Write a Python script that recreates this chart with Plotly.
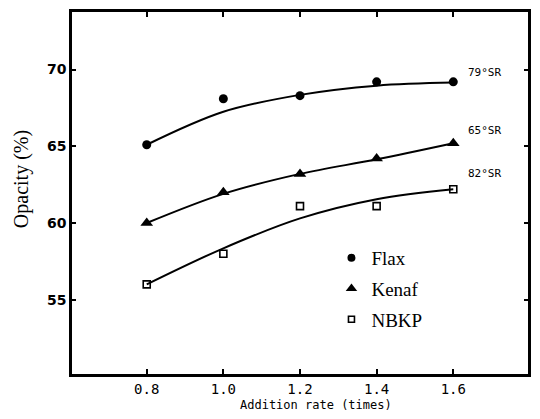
import plotly.graph_objects as go

# ---- data ----
addition_rate = [0.8, 1.0, 1.2, 1.4, 1.6]
flax = [65.1, 68.1, 68.3, 69.2, 69.2]
kenaf = [60.0, 62.0, 63.2, 64.2, 65.2]
nbkp = [56.0, 58.0, 61.1, 61.1, 62.2]

# smooth fitted curves as drawn in the reference
flax_curve = [65.1, 67.25, 68.35, 68.95, 69.15]
kenaf_curve = [60.0, 61.9, 63.2, 64.15, 65.2]
nbkp_curve = [56.0, 58.35, 60.3, 61.55, 62.2]

series_names = ["Flax", "Kenaf", "NBKP"]
curve_labels = ["79°SR", "65°SR", "82°SR"]
label_y = [69.8, 66.05, 63.2]

x_ticks = [0.8, 1.0, 1.2, 1.4, 1.6]
x_ticklabels = ["0.8", "1.0", "1.2", "1.4", "1.6"]
y_ticks = [55, 60, 65, 70]

markers = [
    dict(symbol="circle", size=9, color="black"),
    dict(symbol="triangle-up", size=11, color="black"),
    dict(symbol="square-open", size=7, color="black", line=dict(width=1.6, color="black")),
]

fig = go.Figure()
for vals, curve, mk in zip([flax, kenaf, nbkp], [flax_curve, kenaf_curve, nbkp_curve], markers):
    fig.add_trace(go.Scatter(x=addition_rate, y=curve, mode="lines",
                             line=dict(color="black", width=2, shape="spline", smoothing=1.0),
                             showlegend=False, hoverinfo="skip"))
    fig.add_trace(go.Scatter(x=addition_rate, y=vals, mode="markers", marker=mk,
                             showlegend=False))

for name, mk in zip(series_names, markers):
    mk2 = dict(mk)
    mk2["size"] = mk["size"] - 1
    fig.add_trace(go.Scatter(x=[None], y=[None], mode="markers", marker=mk2,
                             name=name, legendgroup=name, showlegend=True))

for lab, ly in zip(curve_labels, label_y):
    fig.add_annotation(x=1.632, y=ly, text=lab, showarrow=False, xanchor="left",
                       yanchor="middle", font=dict(family="DejaVu Sans Mono", size=11, color="black"))

fig.add_annotation(xref="paper", yref="paper", x=-0.109, y=0.539, text="Opacity (%)",
                   textangle=-90, showarrow=False, xanchor="center", yanchor="middle",
                   font=dict(family="Liberation Serif", size=20, color="black"))
fig.add_annotation(xref="paper", yref="paper", x=0.535, y=-0.086, text="Addition rate (times)",
                   showarrow=False, xanchor="center", yanchor="middle",
                   font=dict(family="DejaVu Sans Mono", size=12, color="black"))

fig.update_xaxes(range=[0.605, 1.795], tickvals=x_ticks, ticktext=x_ticklabels,
                 ticks="inside", ticklen=5, tickwidth=1.5, tickcolor="black",
                 showline=True, linecolor="black", linewidth=2.5, mirror="ticks",
                 showgrid=False, zeroline=False,
                 tickfont=dict(family="DejaVu Sans Mono", size=14, color="black"))
fig.update_yaxes(range=[50.16, 73.75], tickvals=y_ticks,
                 ticks="inside", ticklen=4, tickwidth=1.5, tickcolor="black",
                 showline=True, linecolor="black", linewidth=2.5, mirror="ticks",
                 showgrid=False, zeroline=False,
                 tickfont=dict(family="DejaVu Sans", size=14, color="black", weight="bold"))

fig.update_layout(
    width=540, height=419,
    margin=dict(l=72, r=10, t=9, b=45),
    plot_bgcolor="white", paper_bgcolor="white",
    legend=dict(x=0.569, y=0.373, xanchor="left", yanchor="top",
                bgcolor="rgba(0,0,0,0)", traceorder="grouped", tracegroupgap=3,
                font=dict(family="Liberation Serif", size=19, color="black")),
)

fig.write_html("out.html")
